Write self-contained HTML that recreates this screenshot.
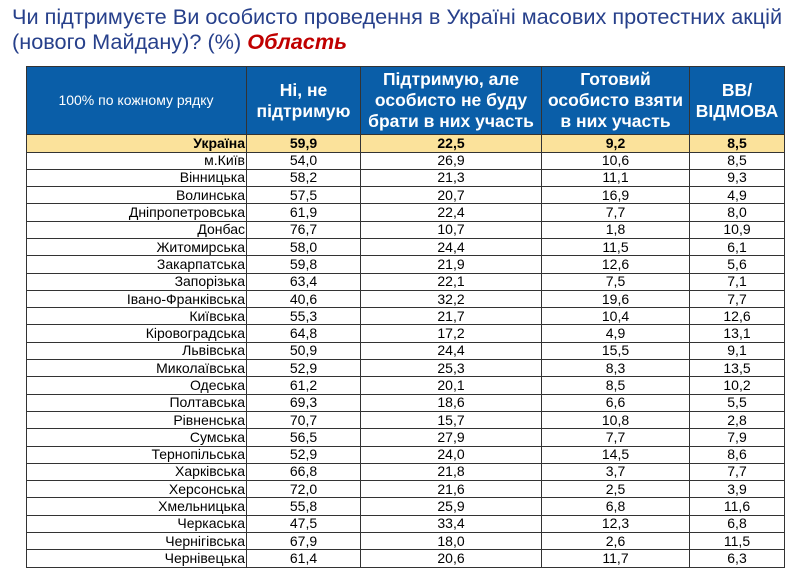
<!DOCTYPE html>
<html><head><meta charset="utf-8"><style>
body{margin:0;width:791px;height:573px;background:#fff;font-family:"Liberation Sans",sans-serif;overflow:hidden;position:relative}
.t{position:absolute;left:12px;font-size:21.7px;color:#27408b;white-space:nowrap}
.t b{color:#c00000;font-style:italic}
table{position:absolute;left:26px;top:66px;border-collapse:collapse;table-layout:fixed}
td{border:1px solid #333;padding:0;font-size:14px;height:15.5px;line-height:15px;text-align:center;color:#000}
td:first-child{text-align:right;padding-right:1px}
tr.b td{height:16.3px}
tr.h td{background:#0a5ea8;color:#fff;font-weight:bold;font-size:17.5px;line-height:21px;height:67px}
tr.h td:first-child{text-align:center;font-weight:normal;font-size:14px}
tr.u td{background:#fbe29b;font-weight:bold;height:16.5px}
</style></head><body>
<div class="t" style="top:4px">Чи підтримуєте Ви особисто проведення в Україні масових протестних акцій</div>
<div class="t" style="top:29px">(нового Майдану)? (%) <b>Область</b></div>
<table>
<colgroup><col style="width:220px"><col style="width:114px"><col style="width:181px"><col style="width:148px"><col style="width:95px"></colgroup>
<tr class="h"><td>100% по кожному рядку</td><td>Ні, не<br>підтримую</td><td>Підтримую, але<br>особисто не буду<br>брати в них участь</td><td>Готовий<br>особисто взяти<br>в них участь</td><td>ВВ/<br>ВІДМОВА</td></tr>
<tr class="u"><td>Україна</td><td>59,9</td><td>22,5</td><td>9,2</td><td>8,5</td></tr>
<tr class="b"><td>м.Київ</td><td>54,0</td><td>26,9</td><td>10,6</td><td>8,5</td></tr>
<tr class="b"><td>Вінницька</td><td>58,2</td><td>21,3</td><td>11,1</td><td>9,3</td></tr>
<tr class="b"><td>Волинська</td><td>57,5</td><td>20,7</td><td>16,9</td><td>4,9</td></tr>
<tr class="b"><td>Дніпропетровська</td><td>61,9</td><td>22,4</td><td>7,7</td><td>8,0</td></tr>
<tr class="b"><td>Донбас</td><td>76,7</td><td>10,7</td><td>1,8</td><td>10,9</td></tr>
<tr class="b"><td>Житомирська</td><td>58,0</td><td>24,4</td><td>11,5</td><td>6,1</td></tr>
<tr class="b"><td>Закарпатська</td><td>59,8</td><td>21,9</td><td>12,6</td><td>5,6</td></tr>
<tr class="b"><td>Запорізька</td><td>63,4</td><td>22,1</td><td>7,5</td><td>7,1</td></tr>
<tr class="b"><td>Івано-Франківська</td><td>40,6</td><td>32,2</td><td>19,6</td><td>7,7</td></tr>
<tr class="b"><td>Київська</td><td>55,3</td><td>21,7</td><td>10,4</td><td>12,6</td></tr>
<tr class="b"><td>Кіровоградська</td><td>64,8</td><td>17,2</td><td>4,9</td><td>13,1</td></tr>
<tr class="b"><td>Львівська</td><td>50,9</td><td>24,4</td><td>15,5</td><td>9,1</td></tr>
<tr class="b"><td>Миколаївська</td><td>52,9</td><td>25,3</td><td>8,3</td><td>13,5</td></tr>
<tr class="b"><td>Одеська</td><td>61,2</td><td>20,1</td><td>8,5</td><td>10,2</td></tr>
<tr class="b"><td>Полтавська</td><td>69,3</td><td>18,6</td><td>6,6</td><td>5,5</td></tr>
<tr class="b"><td>Рівненська</td><td>70,7</td><td>15,7</td><td>10,8</td><td>2,8</td></tr>
<tr class="b"><td>Сумська</td><td>56,5</td><td>27,9</td><td>7,7</td><td>7,9</td></tr>
<tr class="b"><td>Тернопільська</td><td>52,9</td><td>24,0</td><td>14,5</td><td>8,6</td></tr>
<tr class="b"><td>Харківська</td><td>66,8</td><td>21,8</td><td>3,7</td><td>7,7</td></tr>
<tr class="b"><td>Херсонська</td><td>72,0</td><td>21,6</td><td>2,5</td><td>3,9</td></tr>
<tr class="b"><td>Хмельницька</td><td>55,8</td><td>25,9</td><td>6,8</td><td>11,6</td></tr>
<tr class="b"><td>Черкаська</td><td>47,5</td><td>33,4</td><td>12,3</td><td>6,8</td></tr>
<tr class="b"><td>Чернігівська</td><td>67,9</td><td>18,0</td><td>2,6</td><td>11,5</td></tr>
<tr class="b"><td>Чернівецька</td><td>61,4</td><td>20,6</td><td>11,7</td><td>6,3</td></tr>
</table>
</body></html>
